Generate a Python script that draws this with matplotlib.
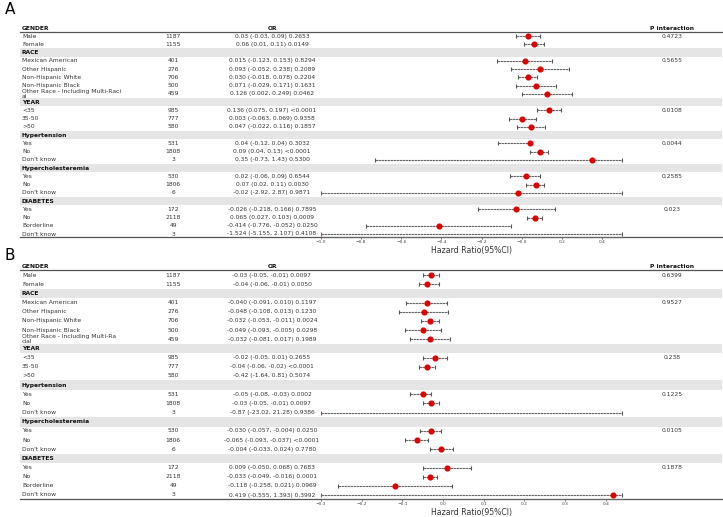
import numpy as np
import matplotlib.pyplot as plt

# ---- data ----
groups = ["GENDER", "RACE", "YEAR", "Hypertension", "Hypercholesteremia", "DIABETES"]
sub_A = [["Male", "Female"],
         ["Mexican American", "Other Hispanic", "Non-Hispanic White", "Non-Hispanic Black",
          "Other Race - Including Multi-Raci\nal"],
         ["<35", "35-50", ">50"],
         ["Yes", "No", "Don't know"],
         ["Yes", "No", "Don't know"],
         ["Yes", "No", "Borderline", "Don't know"]]
sub_B = [g[:] for g in sub_A]
sub_B[1][4] = "Other Race - Including Multi-Ra\ncial"

n_obs = [1187, 1155, 401, 276, 706, 500, 459, 985, 777, 580,
         531, 1808, 3, 530, 1806, 6, 172, 2118, 49, 3]

est_A = [0.03, 0.06, 0.015, 0.093, 0.030, 0.071, 0.126, 0.136, 0.003, 0.047,
         0.04, 0.09, 0.35, 0.02, 0.07, -0.02, -0.026, 0.065, -0.414, -1.524]
lo_A = [-0.03, 0.01, -0.123, -0.052, -0.018, -0.029, 0.002, 0.075, -0.063, -0.022,
        -0.12, 0.04, -0.73, -0.06, 0.02, -2.92, -0.218, 0.027, -0.776, -5.155]
hi_A = [0.09, 0.11, 0.153, 0.238, 0.078, 0.171, 0.249, 0.197, 0.069, 0.116,
        0.04, 0.13, 1.43, 0.09, 0.11, 2.87, 0.166, 0.103, -0.052, 2.107]
p_A = ["0.2653", "0.0149", "0.8294", "0.2089", "0.2204", "0.1631", "0.0462", "<0.0001", "0.9358", "0.1857",
       "0.3032", "<0.0001", "0.5300", "0.6544", "0.0030", "0.9871", "0.7895", "0.0009", "0.0250", "0.4108"]
dec_A = [2, 3, 3, 2, 2, 3]
pint_A = ["0.4723", "0.5655", "0.0108", "0.0044", "0.2585", "0.023"]

est_B = [-0.03, -0.04, -0.040, -0.048, -0.032, -0.049, -0.032, -0.02, -0.04, -0.42,
         -0.05, -0.03, -0.87, -0.030, -0.065, -0.004, 0.009, -0.033, -0.118, 0.419]
lo_B = [-0.05, -0.06, -0.091, -0.108, -0.053, -0.093, -0.081, -0.05, -0.06, -1.64,
        -0.08, -0.05, -23.02, -0.057, -0.093, -0.033, -0.050, -0.049, -0.258, -0.555]
hi_B = [-0.01, -0.01, 0.010, 0.013, -0.011, -0.005, 0.017, 0.01, -0.02, 0.81,
        -0.03, -0.01, 21.28, -0.004, -0.037, 0.024, 0.068, -0.016, 0.021, 1.393]
p_B = ["0.0097", "0.0050", "0.1197", "0.1230", "0.0024", "0.0298", "0.1989", "0.2655", "<0.0001", "0.5074",
       "0.0002", "0.0097", "0.9386", "0.0250", "<0.0001", "0.7780", "0.7683", "0.0001", "0.0969", "0.3992"]
dec_B = [2, 3, 2, 2, 3, 3]
pint_B = ["0.6399", "0.9527", "0.238", "0.1225", "0.0105", "0.1878"]
hidden_B = [9]  # row not drawn in the reference (>50)

W, H = 723, 517
fig = plt.figure(figsize=(W / 100, H / 100), dpi=100)
FS = 4.3
TXT = '#333333'


def panel(letter, letter_y, row0, step, axis_px, label_px, subs, est, lo, hi, pv, decs, pint,
          xlim, xticks, hidden=()):
    top_px = row0 - 6
    ylim = ((axis_px - row0) / step, -(row0 - top_px) / step)
    rect_h = (axis_px - top_px) / H
    bottom = 1 - axis_px / H

    tab = fig.add_axes([0, bottom, 1, rect_h])
    tab.set_xlim(0, W)
    tab.set_ylim(*ylim)
    tab.axis('off')

    fx0, fx1 = 321, 622
    fax = fig.add_axes([fx0 / W, bottom, (fx1 - fx0) / W, rect_h])
    fax.set_facecolor('none')
    fax.set_xlim(*xlim)
    fax.set_ylim(*ylim)
    for s in ['top', 'left', 'right']:
        fax.spines[s].set_visible(False)
    fax.spines['bottom'].set_color('#666666')
    fax.set_yticks([])
    fax.set_xticks(xticks)
    fax.set_xticklabels([f"{t:.1f}".replace('-', '\u2212') for t in xticks])
    fax.tick_params(axis='x', labelsize=3.2, length=1.6, width=0.5, pad=0.6, colors='#444444')
    fig.text((fx0 + fx1) / 2 / W, 1 - label_px / H, "Hazard Ratio(95%CI)", fontsize=5.6,
             ha='center', va='center', color='#333333')

    row = 0
    k = 0
    for gi, g in enumerate(groups):
        if gi > 0:
            tab.barh(row, 702, left=20, height=1.05, color='#e5e5e5', zorder=0)
        tab.text(22, row, g, fontsize=FS, fontweight='bold', va='center', ha='left', color='#111111')
        if gi == 0:
            tab.text(272, row, "OR", fontsize=FS, fontweight='bold', va='center', ha='center', color='#111111')
            tab.text(672, row, "P interaction", fontsize=FS, fontweight='bold', va='center', ha='center',
                     color='#111111')
        row += 1
        d = decs[gi]
        for si, s in enumerate(subs[gi]):
            tab.text(22, row, s, fontsize=FS, va='center', ha='left', color=TXT, linespacing=1.1)
            tab.text(173, row, str(n_obs[k]), fontsize=FS, va='center', ha='center', color=TXT)
            txt = f"{est[k]:.{d}f} ({lo[k]:.{d}f}, {hi[k]:.{d}f}) {pv[k]}"
            tab.text(272, row, txt, fontsize=FS, va='center', ha='center', color=TXT)
            if si == 0:
                tab.text(672, row, pint[gi], fontsize=FS, va='center', ha='center', color=TXT)
            if k not in hidden:
                l = max(lo[k], xlim[0])
                h = min(hi[k], xlim[1])
                fax.hlines(row, l, h, color='#666666', lw=0.8, linestyles=(0, (2.2, 0.5)), zorder=2)
                fax.plot([h], [row], marker='|', ms=3.5, mew=0.8, color='#555555', zorder=3, clip_on=False)
                lc = '#d04040' if lo[k] < xlim[0] else '#555555'
                fax.plot([l], [row], marker='|', ms=3.5, mew=0.8, color=lc, zorder=3, clip_on=False)
                if xlim[0] <= est[k] <= xlim[1]:
                    fax.plot([est[k]], [row], 'o', ms=3.4, color='#e00000', mec='#e00000', zorder=4)
            row += 1
            k += 1

    tab.plot([20, 722], [0.45, 0.45], color='#555555', lw=0.9)
    tab.plot([20, 722], [ylim[0], ylim[0]], color='#555555', lw=0.9, clip_on=False)
    fig.text(5 / W, 1 - letter_y / H, letter, fontsize=11, va='center', ha='left')


panel("A", 9, 28, 8.24, 237, 250.5, sub_A, est_A, lo_A, hi_A, p_A, dec_A, pint_A,
      (-1.0, 0.5), np.round(np.arange(-1.0, 0.41, 0.2), 1))
panel("B", 256, 266, 9.16, 499, 512, sub_B, est_B, lo_B, hi_B, p_B, dec_B, pint_B,
      (-0.3, 0.44), np.round(np.arange(-0.3, 0.41, 0.1), 1), hidden=hidden_B)

fig.savefig("out.png", dpi=100)
